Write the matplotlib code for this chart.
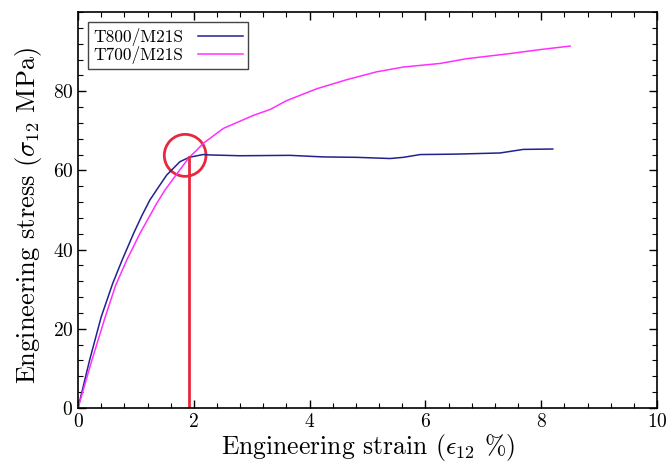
import matplotlib
matplotlib.use('Agg')
import matplotlib.pyplot as plt
import matplotlib.ticker as mticker
from matplotlib.patches import Ellipse

plt.rcParams['font.family'] = 'serif'
plt.rcParams['font.serif'] = ['cmr10']
plt.rcParams['mathtext.fontset'] = 'cm'
plt.rcParams['axes.formatter.use_mathtext'] = True

# ── data ─────────────────────────────────────────────────────────────────────
t800_strain = [0.0, 0.20, 0.40, 0.60, 0.76, 0.96, 1.10, 1.24, 1.40, 1.53, 1.76,
               1.92, 2.16, 2.28, 2.80, 3.66, 4.24, 4.81, 5.39, 5.62, 5.91, 6.5,
               7.29, 7.69, 8.20]
t800_stress = [0.0, 12.1, 23.0, 31.5, 37.3, 44.1, 48.5, 52.5, 56.0, 58.8, 62.2,
               63.3, 64.0, 63.9, 63.7, 63.8, 63.4, 63.3, 63.0, 63.3, 64.0, 64.1,
               64.4, 65.3, 65.4]

t700_strain = [0.0, 0.24, 0.47, 0.65, 0.84, 1.07, 1.20, 1.36, 1.50, 1.65, 1.92,
               2.05, 2.16, 2.51, 3.03, 3.32, 3.60, 4.12, 4.64, 5.16, 5.62, 6.25,
               6.71, 7.46, 7.98, 8.50]
t700_stress = [0.0, 12.1, 23.0, 31.0, 37.3, 44.1, 47.5, 51.7, 55.0, 58.0, 63.3,
               65.1, 66.8, 70.6, 73.9, 75.4, 77.6, 80.6, 82.9, 84.9, 86.1, 87.0,
               88.2, 89.5, 90.5, 91.4]

yield_strain = 1.92
yield_stress = 63.3

BLUE = '#22228f'
MAGENTA = '#ff30ff'
RED = '#e8283c'

fig = plt.figure(figsize=(6.67, 4.65), dpi=100)
ax = fig.add_axes([0.117, 0.1226, 0.868, 0.8516])

ax.plot(t800_strain, t800_stress, color=BLUE, lw=1.1, label='T800/M21S')
ax.plot(t700_strain, t700_stress, color=MAGENTA, lw=1.1, label='T700/M21S')

# yield marker
ax.plot([yield_strain, yield_strain], [0, yield_stress], color=RED, lw=2)
ax.add_patch(Ellipse((1.85, 63.8), 0.72, 10.6, fill=False, ec=RED, lw=2))

ax.set_xlim(0, 10)
ax.set_ylim(0, 100)
ax.xaxis.set_major_locator(mticker.MultipleLocator(2))
ax.xaxis.set_minor_locator(mticker.MultipleLocator(0.4))
ax.yaxis.set_major_locator(mticker.FixedLocator([0, 20, 40, 60, 80]))
ax.yaxis.set_minor_locator(mticker.MultipleLocator(4))
ax.tick_params(which='both', direction='in', top=True, right=True, labelsize=14)
ax.tick_params(which='major', length=6, width=1)
ax.tick_params(which='minor', length=3.5, width=0.8)
for s in ax.spines.values():
    s.set_linewidth(1.2)

ax.set_xlabel(r'Engineering strain ($\epsilon_{12}$ %)', fontsize=18.5, labelpad=1)
ax.set_ylabel(r'Engineering stress ($\sigma_{12}$ MPa)', fontsize=19)
ax.yaxis.set_label_coords(-0.059, 0.487)

leg = ax.legend(loc='upper left', markerfirst=False, fancybox=False, fontsize=12.5,
                handlelength=2.6, borderpad=0.3, labelspacing=0.0,
                borderaxespad=0.6, framealpha=1)
leg.get_frame().set_edgecolor('#444444')
leg.get_frame().set_linewidth(1)

fig.savefig('out.png', dpi=100)
